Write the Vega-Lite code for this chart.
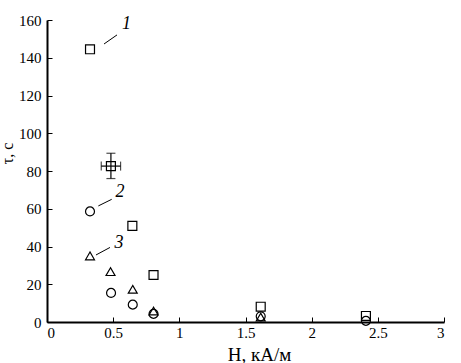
{
  "$schema": "https://vega.github.io/schema/vega-lite/v6.json",
  "width": 397,
  "height": 302,
  "autosize": {"type": "none"},
  "padding": {"left": 47, "top": 20, "right": 17, "bottom": 41},
  "background": "white",
  "config": {
    "view": {"stroke": null},
    "font": "Liberation Serif",
    "axis": {
      "grid": false,
      "domainColor": "black",
      "domainWidth": 2,
      "tickColor": "black",
      "tickWidth": 1,
      "tickSize": -5,
      "labelOverlap": false,
      "labelFont": "Liberation Serif",
      "labelFontSize": 15,
      "labelColor": "black",
      "titleFont": "Liberation Serif",
      "titleFontWeight": "normal",
      "titleColor": "black"
    },
    "axisX": {"labelPadding": 8, "titleFontSize": 19, "titleX": 212, "titleY": 38, "titleBaseline": "alphabetic", "titleAnchor": "middle"},
    "axisY": {"labelPadding": 11, "titleFontSize": 16, "titleX": -35, "titleY": 133, "titleBaseline": "alphabetic", "titleAnchor": "middle"}
  },
  "datasets": {
    "pts": [
      {"series": "1", "x": 0.325, "y": 144.5},
      {"series": "1", "x": 0.483, "y": 82.6},
      {"series": "1", "x": 0.645, "y": 50.9},
      {"series": "1", "x": 0.805, "y": 24.9},
      {"series": "1", "x": 1.615, "y": 8.1},
      {"series": "1", "x": 2.41, "y": 3.2},
      {"series": "2", "x": 0.325, "y": 58.6},
      {"series": "2", "x": 0.484, "y": 15.4},
      {"series": "2", "x": 0.648, "y": 9.2},
      {"series": "2", "x": 0.805, "y": 4.3},
      {"series": "2", "x": 1.615, "y": 3.0},
      {"series": "2", "x": 2.41, "y": 0.6},
      {"series": "3", "x": 0.325, "y": 35.0},
      {"series": "3", "x": 0.48, "y": 26.7},
      {"series": "3", "x": 0.648, "y": 17.3},
      {"series": "3", "x": 0.805, "y": 5.8},
      {"series": "3", "x": 1.615, "y": 2.6}
    ],
    "err": [
      {"x": 0.483, "y": 82.6, "xlo": 0.41, "xhi": 0.556, "ylo": 76.0, "yhi": 89.4}
    ],
    "leaders": [
      {"x": 0.431, "y": 147.3, "x2": 0.529, "y2": 152.1},
      {"x": 0.388, "y": 61.5, "x2": 0.489, "y2": 65.0},
      {"x": 0.37, "y": 35.5, "x2": 0.476, "y2": 39.5}
    ],
    "labels": [
      {"label": "1", "x": 0.6, "y": 157.9},
      {"label": "2", "x": 0.552, "y": 68.7},
      {"label": "3", "x": 0.544, "y": 41.7}
    ]
  },
  "layer": [
    {
      "data": {"name": "pts"},
      "mark": {"type": "point", "filled": false, "color": "black", "strokeWidth": 1.2, "size": 80, "opacity": 1},
      "encoding": {
        "x": {
          "field": "x", "type": "quantitative",
          "scale": {"domain": [0, 3], "nice": false},
          "axis": {"values": [0, 0.5, 1, 1.5, 2, 2.5, 3], "labelOverlap": false, "labelExpr": "datum.value", "title": "H, кА/м"}
        },
        "y": {
          "field": "y", "type": "quantitative",
          "scale": {"domain": [0, 160], "nice": false},
          "axis": {"values": [0, 20, 40, 60, 80, 100, 120, 140, 160], "labelOverlap": false, "labelExpr": "datum.value", "title": "τ, с"}
        },
        "shape": {
          "field": "series", "type": "nominal",
          "scale": {"domain": ["1", "2", "3"], "range": ["square", "circle", "triangle-up"]},
          "legend": null
        }
      }
    },
    {
      "data": {"name": "err"},
      "mark": {"type": "rule", "color": "black", "strokeWidth": 1.2},
      "encoding": {
        "x": {"field": "x", "type": "quantitative", "axis": {"values": [0, 0.5, 1, 1.5, 2, 2.5, 3], "labelOverlap": false, "labelExpr": "datum.value", "title": "H, кА/м"}},
        "y": {"field": "ylo", "type": "quantitative", "axis": {"values": [0, 20, 40, 60, 80, 100, 120, 140, 160], "labelOverlap": false, "labelExpr": "datum.value", "title": "τ, с"}},
        "y2": {"field": "yhi"}
      }
    },
    {
      "data": {"name": "err"},
      "mark": {"type": "rule", "color": "black", "strokeWidth": 1.2},
      "encoding": {
        "y": {"field": "y", "type": "quantitative", "axis": {"values": [0, 20, 40, 60, 80, 100, 120, 140, 160], "labelOverlap": false, "labelExpr": "datum.value", "title": "τ, с"}},
        "x": {"field": "xlo", "type": "quantitative", "axis": {"values": [0, 0.5, 1, 1.5, 2, 2.5, 3], "labelOverlap": false, "labelExpr": "datum.value", "title": "H, кА/м"}},
        "x2": {"field": "xhi"}
      }
    },
    {
      "data": {"name": "err"},
      "transform": [{"fold": ["ylo", "yhi"], "as": ["k", "yv"]}],
      "mark": {"type": "tick", "orient": "horizontal", "color": "black", "thickness": 1.2, "size": 9},
      "encoding": {
        "x": {"field": "x", "type": "quantitative", "axis": {"values": [0, 0.5, 1, 1.5, 2, 2.5, 3], "labelOverlap": false, "labelExpr": "datum.value", "title": "H, кА/м"}},
        "y": {"field": "yv", "type": "quantitative", "axis": {"values": [0, 20, 40, 60, 80, 100, 120, 140, 160], "labelOverlap": false, "labelExpr": "datum.value", "title": "τ, с"}}
      }
    },
    {
      "data": {"name": "err"},
      "transform": [{"fold": ["xlo", "xhi"], "as": ["k", "xv"]}],
      "mark": {"type": "tick", "orient": "vertical", "color": "black", "thickness": 1.2, "size": 9},
      "encoding": {
        "x": {"field": "xv", "type": "quantitative", "axis": {"values": [0, 0.5, 1, 1.5, 2, 2.5, 3], "labelOverlap": false, "labelExpr": "datum.value", "title": "H, кА/м"}},
        "y": {"field": "y", "type": "quantitative", "axis": {"values": [0, 20, 40, 60, 80, 100, 120, 140, 160], "labelOverlap": false, "labelExpr": "datum.value", "title": "τ, с"}}
      }
    },
    {
      "data": {"name": "leaders"},
      "mark": {"type": "rule", "color": "black", "strokeWidth": 1},
      "encoding": {
        "x": {"field": "x", "type": "quantitative", "axis": {"values": [0, 0.5, 1, 1.5, 2, 2.5, 3], "labelOverlap": false, "labelExpr": "datum.value", "title": "H, кА/м"}},
        "y": {"field": "y", "type": "quantitative", "axis": {"values": [0, 20, 40, 60, 80, 100, 120, 140, 160], "labelOverlap": false, "labelExpr": "datum.value", "title": "τ, с"}},
        "x2": {"field": "x2"},
        "y2": {"field": "y2"}
      }
    },
    {
      "data": {"name": "labels"},
      "mark": {"type": "text", "font": "Liberation Serif", "fontStyle": "italic", "fontSize": 18, "color": "black", "align": "center", "baseline": "middle"},
      "encoding": {
        "x": {"field": "x", "type": "quantitative", "axis": {"values": [0, 0.5, 1, 1.5, 2, 2.5, 3], "labelOverlap": false, "labelExpr": "datum.value", "title": "H, кА/м"}},
        "y": {"field": "y", "type": "quantitative", "axis": {"values": [0, 20, 40, 60, 80, 100, 120, 140, 160], "labelOverlap": false, "labelExpr": "datum.value", "title": "τ, с"}},
        "text": {"field": "label"}
      }
    }
  ]
}
